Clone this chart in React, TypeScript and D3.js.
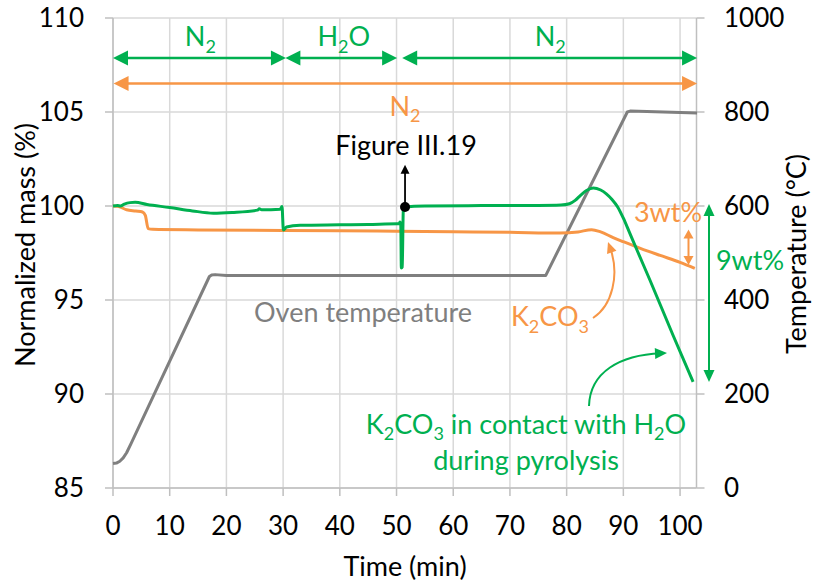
import React from "react";
import * as d3 from "d3";

const FONT = "Lato, 'Open Sans', 'DejaVu Sans', sans-serif";
const GREEN = "#00B050";
const ORANGE = "#F79646";
const GRAY = "#7F7F7F";
const GRID = "#D9D9D9";
const AXIS = "#BFBFBF";

// Tick values
const xTicks = [0, 10, 20, 30, 40, 50, 60, 70, 80, 90, 100];
const massTicks = [85, 90, 95, 100, 105, 110];
const tempTicks = [0, 200, 400, 600, 800, 1000];

// K2CO3 in contact with H2O (normalized mass, %)
const waterMass: [number, number][] = [
  [0, 100.0], [0.8, 100.03], [1.3, 100.0], [2, 100.1], [3, 100.18], [3.9, 100.2],
  [6, 100.08], [10, 99.92], [14, 99.74], [17.7, 99.62], [21, 99.66], [25.5, 99.78],
  [25.8, 99.85], [26.2, 99.8], [29.5, 99.83], [29.8, 99.98], [30.05, 98.72],
  [30.6, 98.88], [33, 98.97], [40, 99.0], [45, 99.02], [50.2, 99.05], [50.5, 99.05],
  [50.6, 99.15], [50.75, 99.0], [50.85, 96.7], [51.0, 96.75], [51.2, 99.8],
  [51.5, 99.95], [55, 100.0], [65, 100.02], [75, 100.03], [79, 100.05],
  [80.5, 100.12], [81.5, 100.3], [82.5, 100.58], [83.5, 100.82], [84.7, 100.96],
  [86, 100.85], [87, 100.65], [88, 100.35], [89, 99.95], [90, 99.35], [91, 98.65],
  [92.4, 97.66], [94.7, 96.05], [98.8, 93.1], [102.3, 90.64],
];

// K2CO3 under N2 (normalized mass, %)
const nitrogenMass: [number, number][] = [
  [0, 100.0], [1, 99.97], [2.4, 99.8], [4, 99.73], [5.2, 99.68], [5.7, 99.5],
  [6.2, 98.8], [7, 98.76], [15, 98.73], [30, 98.7], [40, 98.69], [50, 98.66],
  [60, 98.63], [70, 98.6], [78.8, 98.56], [82, 98.62], [84.4, 98.74], [86, 98.62],
  [88.2, 98.32], [90, 98.1], [93, 97.75], [96.5, 97.37], [100, 97.0], [102.6, 96.68],
];

// Oven temperature (°C)
const ovenTemp: [number, number][] = [
  [0, 52], [0.6, 53], [1.2, 57], [1.8, 64], [2.4, 75], [3.2, 95], [17, 450],
  [17.4, 453], [18, 454], [20, 452], [50, 452], [76.3, 452], [90.7, 800],
  [91.2, 802], [103, 798],
];

// Gas atmosphere phases (top arrows)
const phaseStart = [0, 30.4, 51.0];
const phaseEnd = [30.5, 50.1, 103.0];
const phaseLabel = ["N2", "H2O", "N2"];
const phaseLabelAt = [15.4, 40.7, 77.1];

const W = 813;
const H = 588;
const X0 = 113;
const X1 = 696.5;
const Y0 = 488;
const Y1 = 18;

const x = d3.scaleLinear().domain([0, 102.9]).range([X0, X1]);
const yM = d3.scaleLinear().domain([85, 110]).range([Y0, Y1]);
const yT = d3.scaleLinear().domain([0, 1000]).range([Y0, Y1]);

const massLine = d3
  .line<[number, number]>()
  .x((d) => x(d[0]))
  .y((d) => yM(d[1]))
  .curve(d3.curveMonotoneX);
const tempLine = d3
  .line<[number, number]>()
  .x((d) => x(d[0]))
  .y((d) => yT(d[1]))
  .curve(d3.curveLinear);

function head(tx: number, ty: number, angle: number, len: number, hw: number) {
  const c = Math.cos(angle);
  const s = Math.sin(angle);
  const bx = tx - len * c;
  const by = ty - len * s;
  return `M${tx},${ty}L${bx - hw * s},${by + hw * c}L${bx + hw * s},${by - hw * c}Z`;
}

function Chem({ s, sub = 18, shift = 7 }: { s: string; sub?: number; shift?: number }) {
  const runs: { t: string; sub: boolean }[] = [];
  for (let i = 0; i < s.length; i++) {
    const ch = s[i];
    const isSub = /\d/.test(ch) && i > 0 && /[A-Za-z]/.test(s[i - 1]);
    const last = runs[runs.length - 1];
    if (last && last.sub === isSub) last.t += ch;
    else runs.push({ t: ch, sub: isSub });
  }
  let prevSub = false;
  return (
    <>
      {runs.map((r, i) => {
        let dy = 0;
        if (r.sub && !prevSub) dy = shift;
        if (!r.sub && prevSub) dy = -shift;
        prevSub = r.sub;
        return (
          <tspan key={i} dy={dy} fontSize={r.sub ? sub : undefined}>
            {r.t}
          </tspan>
        );
      })}
    </>
  );
}

function DoubleArrow({ x1, x2, y, color, len, hw, w }: any) {
  return (
    <g>
      <line x1={x1 + len - 1} x2={x2 - len + 1} y1={y} y2={y} stroke={color} strokeWidth={w} />
      <path d={head(x1, y, Math.PI, len, hw)} fill={color} />
      <path d={head(x2, y, 0, len, hw)} fill={color} />
    </g>
  );
}

function VDoubleArrow({ xx, y1, y2, color, len, hw, w }: any) {
  return (
    <g>
      <line x1={xx} x2={xx} y1={y1 + len - 1} y2={y2 - len + 1} stroke={color} strokeWidth={w} />
      <path d={head(xx, y1, -Math.PI / 2, len, hw)} fill={color} />
      <path d={head(xx, y2, Math.PI / 2, len, hw)} fill={color} />
    </g>
  );
}

export default function App() {
  const dotX = x(51.5);
  const dotY = yM(99.95);
  const figTipY = yM(102.2);

  // orange curved arrow
  const oTail = [593, 318];
  const oC1 = [612, 306];
  const oC2 = [620, 275];
  const oTip = [608, 242];
  const oAng = Math.atan2(oTip[1] - oC2[1], oTip[0] - oC2[0]);
  // green curved arrow
  const gTail = [589, 406];
  const gC1 = [590, 372];
  const gC2 = [620, 355];
  const gTip = [667, 353];
  const gAng = Math.atan2(gTip[1] - gC2[1], gTip[0] - gC2[0]);

  return (
    <svg
      width={W}
      height={H}
      style={{ position: "absolute", left: 0, top: 0, background: "#fff" }}
      fontFamily={FONT}
    >
      <rect x={0} y={0} width={W} height={H} fill="#fff" />
      {/* grid */}
      {xTicks.map((t) => (
        <line key={"gx" + t} x1={x(t)} x2={x(t)} y1={Y1} y2={Y0} stroke={GRID} strokeWidth={1.5} />
      ))}
      {massTicks.map((m) => (
        <line key={"gy" + m} x1={X0} x2={X1} y1={yM(m)} y2={yM(m)} stroke={GRID} strokeWidth={1.5} />
      ))}
      {/* axes */}
      <line x1={X0} x2={X0} y1={Y1} y2={Y0} stroke={AXIS} strokeWidth={1.5} />
      <line x1={X1} x2={X1} y1={Y1} y2={Y0} stroke={AXIS} strokeWidth={1.5} />
      <line x1={X0} x2={X1} y1={Y0} y2={Y0} stroke={AXIS} strokeWidth={1.5} />
      {massTicks.map((m) => (
        <line key={"tl" + m} x1={X0 - 8} x2={X0} y1={yM(m)} y2={yM(m)} stroke={AXIS} strokeWidth={1.5} />
      ))}
      {tempTicks.map((t) => (
        <line key={"tr" + t} x1={X1} x2={X1 + 8} y1={yT(t)} y2={yT(t)} stroke={AXIS} strokeWidth={1.5} />
      ))}
      {xTicks.map((t) => (
        <line key={"tb" + t} x1={x(t)} x2={x(t)} y1={Y0} y2={Y0 + 8} stroke={AXIS} strokeWidth={1.5} />
      ))}
      {/* tick labels */}
      {massTicks.map((m) => (
        <text key={"ll" + m} x={84} y={yM(m) + 9} textAnchor="end" fontSize={26} fill="#000">
          {m}
        </text>
      ))}
      {tempTicks.map((t) => (
        <text key={"rl" + t} x={724} y={yT(t) + 9} textAnchor="start" fontSize={26} fill="#000">
          {t}
        </text>
      ))}
      {xTicks.map((t) => (
        <text key={"bl" + t} x={x(t)} y={535} textAnchor="middle" fontSize={26} fill="#000">
          {t}
        </text>
      ))}
      {/* axis titles */}
      <text x={405} y={576} textAnchor="middle" fontSize={27} fill="#000">
        Time (min)
      </text>
      <text transform="translate(35,245) rotate(-90)" textAnchor="middle" fontSize={27} fill="#000">
        Normalized mass (%)
      </text>
      <text transform="translate(806,254) rotate(-90)" textAnchor="middle" fontSize={27} fill="#000">
        Temperature (°C)
      </text>

      {/* series */}
      <path d={tempLine(ovenTemp) || ""} fill="none" stroke={GRAY} strokeWidth={3} strokeLinejoin="round" />
      <path d={massLine(nitrogenMass) || ""} fill="none" stroke={ORANGE} strokeWidth={3} strokeLinejoin="round" />
      <path d={massLine(waterMass) || ""} fill="none" stroke={GREEN} strokeWidth={3} strokeLinejoin="round" />

      {/* top phase arrows */}
      {phaseStart.map((s, i) => (
        <DoubleArrow key={"pa" + i} x1={x(s)} x2={x(phaseEnd[i])} y={58} color={GREEN} len={15} hw={7.5} w={2.5} />
      ))}
      {phaseLabel.map((l, i) => (
        <text key={"pl" + i} x={x(phaseLabelAt[i])} y={46} textAnchor="middle" fontSize={27} fill={GREEN}>
          <Chem s={l} />
        </text>
      ))}
      <DoubleArrow x1={x(0.1)} x2={x(103)} y={83.5} color={ORANGE} len={15} hw={7.5} w={2.5} />
      <text x={x(51.5)} y={116} textAnchor="middle" fontSize={27} fill={ORANGE}>
        <Chem s="N2" shift={6} />
      </text>

      {/* Figure III.19 */}
      <line x1={dotX} x2={dotX} y1={dotY} y2={figTipY + 8} stroke="#000" strokeWidth={1.8} />
      <path d={head(dotX, figTipY, -Math.PI / 2, 9, 4.5)} fill="#000" />
      <circle cx={dotX} cy={dotY} r={5} fill="#000" />
      <text x={406} y={155} textAnchor="middle" fontSize={27} fill="#000">
        Figure III.19
      </text>

      {/* labels */}
      <text x={363} y={322} textAnchor="middle" fontSize={27} fill={GRAY}>
        Oven temperature
      </text>
      <text x={550} y={326} textAnchor="middle" fontSize={27} fill={ORANGE}>
        <Chem s="K2CO3" />
      </text>
      <path
        d={`M${oTail[0]},${oTail[1]}C${oC1[0]},${oC1[1]} ${oC2[0]},${oC2[1]} ${oTip[0] + 6 * Math.cos(oAng + Math.PI)},${oTip[1] + 6 * Math.sin(oAng + Math.PI)}`}
        fill="none"
        stroke={ORANGE}
        strokeWidth={2}
      />
      <path d={head(oTip[0], oTip[1], oAng, 11, 5)} fill={ORANGE} />

      <text x={526} y={434} textAnchor="middle" fontSize={27} fill={GREEN}>
        <Chem s="K2CO3 in contact with H2O" shift={6} />
      </text>
      <text x={526} y={470} textAnchor="middle" fontSize={27} fill={GREEN}>
        during pyrolysis
      </text>
      <path
        d={`M${gTail[0]},${gTail[1]}C${gC1[0]},${gC1[1]} ${gC2[0]},${gC2[1]} ${gTip[0] + 6 * Math.cos(gAng + Math.PI)},${gTip[1] + 6 * Math.sin(gAng + Math.PI)}`}
        fill="none"
        stroke={GREEN}
        strokeWidth={2}
      />
      <path d={head(gTip[0], gTip[1], gAng, 12, 5.5)} fill={GREEN} />

      {/* 3wt% and 9wt% */}
      <VDoubleArrow xx={688.5} y1={229.5} y2={265} color={ORANGE} len={9} hw={5} w={2} />
      <text x={668} y={222} textAnchor="middle" fontSize={27} fill={ORANGE}>
        3wt%
      </text>
      <VDoubleArrow xx={709} y1={204} y2={382} color={GREEN} len={12} hw={5.5} w={2} />
      <text x={750} y={270} textAnchor="middle" fontSize={27} fill={GREEN}>
        9wt%
      </text>
    </svg>
  );
}
